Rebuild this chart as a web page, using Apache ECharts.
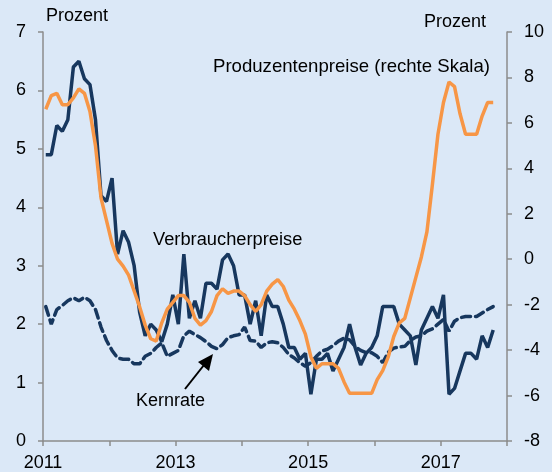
<!DOCTYPE html>
<html>
<head>
<meta charset="utf-8" />
<title></title>
<script src="https://cdn.jsdelivr.net/npm/echarts@6/dist/echarts.min.js"></script>
<style>
  html, body { margin: 0; padding: 0; background: #dbe8f7; }
  #main { width: 552px; height: 472px; }
</style>
</head>
<body>
<div id="main"></div>
<script type="text/javascript">
/* Monatswerte Jan 2011 - Okt 2017 */
var startYear = 2011;
var verbraucherpreise = [
  4.9, 4.9, 5.4, 5.3, 5.5, 6.4, 6.5, 6.2, 6.1, 5.5, 4.2, 4.1,
  4.5, 3.2, 3.6, 3.4, 3.0, 2.2, 1.8, 2.0, 1.9, 1.7, 2.0, 2.5,
  2.0, 3.2, 2.1, 2.4, 2.1, 2.7, 2.7, 2.6, 3.1, 3.2, 3.0, 2.5,
  2.5, 2.0, 2.4, 1.8, 2.5, 2.3, 2.3, 2.0, 1.6, 1.6, 1.4, 1.5,
  0.8, 1.4, 1.4, 1.5, 1.2, 1.4, 1.6, 2.0, 1.6, 1.3, 1.5, 1.6,
  1.8, 2.3, 2.3, 2.3, 2.0, 1.9, 1.8, 1.3, 1.9, 2.1, 2.3, 2.1,
  2.5, 0.8, 0.9, 1.2, 1.5, 1.5, 1.4, 1.8, 1.6, 1.9
];
var kernrate = [
  2.30, 2.00, 2.25, 2.32, 2.40, 2.45, 2.40, 2.46, 2.40, 2.25, 1.95, 1.72,
  1.55, 1.42, 1.40, 1.40, 1.32, 1.32, 1.45, 1.50, 1.60, 1.68, 1.45, 1.50,
  1.55, 1.80, 1.88, 1.82, 1.77, 1.70, 1.62, 1.58, 1.65, 1.77, 1.80, 1.82,
  1.95, 1.72, 1.71, 1.60, 1.68, 1.70, 1.68, 1.60, 1.48, 1.42, 1.34, 1.28,
  1.34, 1.45, 1.54, 1.57, 1.63, 1.71, 1.76, 1.73, 1.62, 1.55, 1.51, 1.51,
  1.45, 1.34, 1.52, 1.59, 1.61, 1.62, 1.72, 1.78, 1.80, 1.88, 1.92, 2.00,
  2.08, 1.88, 2.05, 2.11, 2.13, 2.13, 2.13, 2.19, 2.25, 2.30
];
var produzentenpreise = [
  6.6, 7.2, 7.3, 6.8, 6.8, 7.1, 7.5, 7.3, 6.5, 5.0, 2.7, 1.7,
  0.7, 0.0, -0.3, -0.7, -1.4, -2.1, -2.9, -3.5, -3.6, -2.8, -2.2, -1.9,
  -1.6, -1.6, -1.9, -2.6, -2.9, -2.7, -2.3, -1.6, -1.3, -1.5, -1.4, -1.4,
  -1.6, -2.0, -2.3, -2.0, -1.4, -1.1, -0.9, -1.2, -1.8, -2.2, -2.7, -3.3,
  -4.3, -4.8, -4.6, -4.6, -4.6, -4.8, -5.4, -5.9, -5.9, -5.9, -5.9, -5.9,
  -5.3, -4.9, -4.3, -3.4, -2.8, -2.6, -1.7, -0.8, 0.1, 1.2, 3.3, 5.5,
  6.9, 7.8, 7.6, 6.4, 5.5, 5.5, 5.5, 6.3, 6.9, 6.9
];

/* Monat i liegt in der Monatsmitte */
function toPoints(arr) {
  var out = [];
  for (var i = 0; i < arr.length; i++) out.push([i + 0.5, arr[i]]);
  return out;
}

var font = '"Liberation Sans", Arial, sans-serif';
var fs = 18;
var navy = '#17375e';
var orange = '#f79646';
var axisGrey = '#8c8c8c';

var chart = echarts.init(document.getElementById('main'));
var option = {
  backgroundColor: '#dbe8f7',
  animation: false,
  textStyle: { fontFamily: font },
  grid: { left: 43, right: 45, top: 32, bottom: 30 },
  xAxis: {
    type: 'value',
    min: 0,
    max: 84,
    interval: 12,
    splitLine: { show: false },
    axisLine: { lineStyle: { color: axisGrey, width: 1.5 } },
    axisTick: { length: 5, lineStyle: { color: axisGrey, width: 1.5 } },
    axisLabel: {
      margin: 13,
      fontSize: fs,
      color: '#000',
      fontFamily: font,
      formatter: function (v) {
        var y = v / 12;
        return (y % 2 === 0) ? String(startYear + y) : '';
      }
    }
  },
  yAxis: [{
    type: 'value',
    min: 0,
    max: 7,
    interval: 1,
    position: 'left',
    splitLine: { show: false },
    axisLine: { show: true, lineStyle: { color: axisGrey, width: 1.5 } },
    axisTick: { show: true, length: 5, lineStyle: { color: axisGrey, width: 1.5 } },
    axisLabel: { margin: 17, fontSize: fs, color: '#000', fontFamily: font }
  }, {
    type: 'value',
    min: -8,
    max: 10,
    interval: 2,
    position: 'right',
    splitLine: { show: false },
    axisLine: { show: true, lineStyle: { color: axisGrey, width: 1.5 } },
    axisTick: { show: true, length: 5, lineStyle: { color: axisGrey, width: 1.5 } },
    axisLabel: { margin: 17, fontSize: fs, color: '#000', fontFamily: font }
  }],
  series: [{
    name: 'Kernrate',
    type: 'line',
    yAxisIndex: 0,
    data: toPoints(kernrate),
    showSymbol: false,
    lineStyle: { color: navy, width: 3.5, type: [9, 5], cap: 'round' }
  }, {
    name: 'Verbraucherpreise',
    type: 'line',
    yAxisIndex: 0,
    data: toPoints(verbraucherpreise),
    showSymbol: false,
    lineStyle: { color: navy, width: 3.5 }
  }, {
    name: 'Produzentenpreise',
    type: 'line',
    yAxisIndex: 1,
    data: toPoints(produzentenpreise),
    showSymbol: false,
    lineStyle: { color: orange, width: 3.5 }
  }],
  graphic: [
    { type: 'text', left: 46, top: 7, style: { text: 'Prozent', font: fs + 'px ' + font, fill: '#000' } },
    { type: 'text', left: 424, top: 13, style: { text: 'Prozent', font: fs + 'px ' + font, fill: '#000' } },
    { type: 'text', left: 213, top: 57, style: { text: 'Produzentenpreise (rechte Skala)', font: '18.6px ' + font, fill: '#000' } },
    { type: 'text', left: 153, top: 231, style: { text: 'Verbraucherpreise', font: '18.3px ' + font, fill: '#000' } },
    { type: 'text', left: 136, top: 392, style: { text: 'Kernrate', font: fs + 'px ' + font, fill: '#000' } },
    /* Pfeil zur Kernrate */
    { type: 'line', shape: { x1: 185, y1: 389, x2: 204, y2: 365 }, style: { stroke: '#000', lineWidth: 2 } },
    { type: 'polygon', shape: { points: [[213, 354], [198, 362], [209, 371]] }, style: { fill: '#000' } }
  ]
};
chart.setOption(option);
window.onresize = chart.resize;
</script>
</body>
</html>
